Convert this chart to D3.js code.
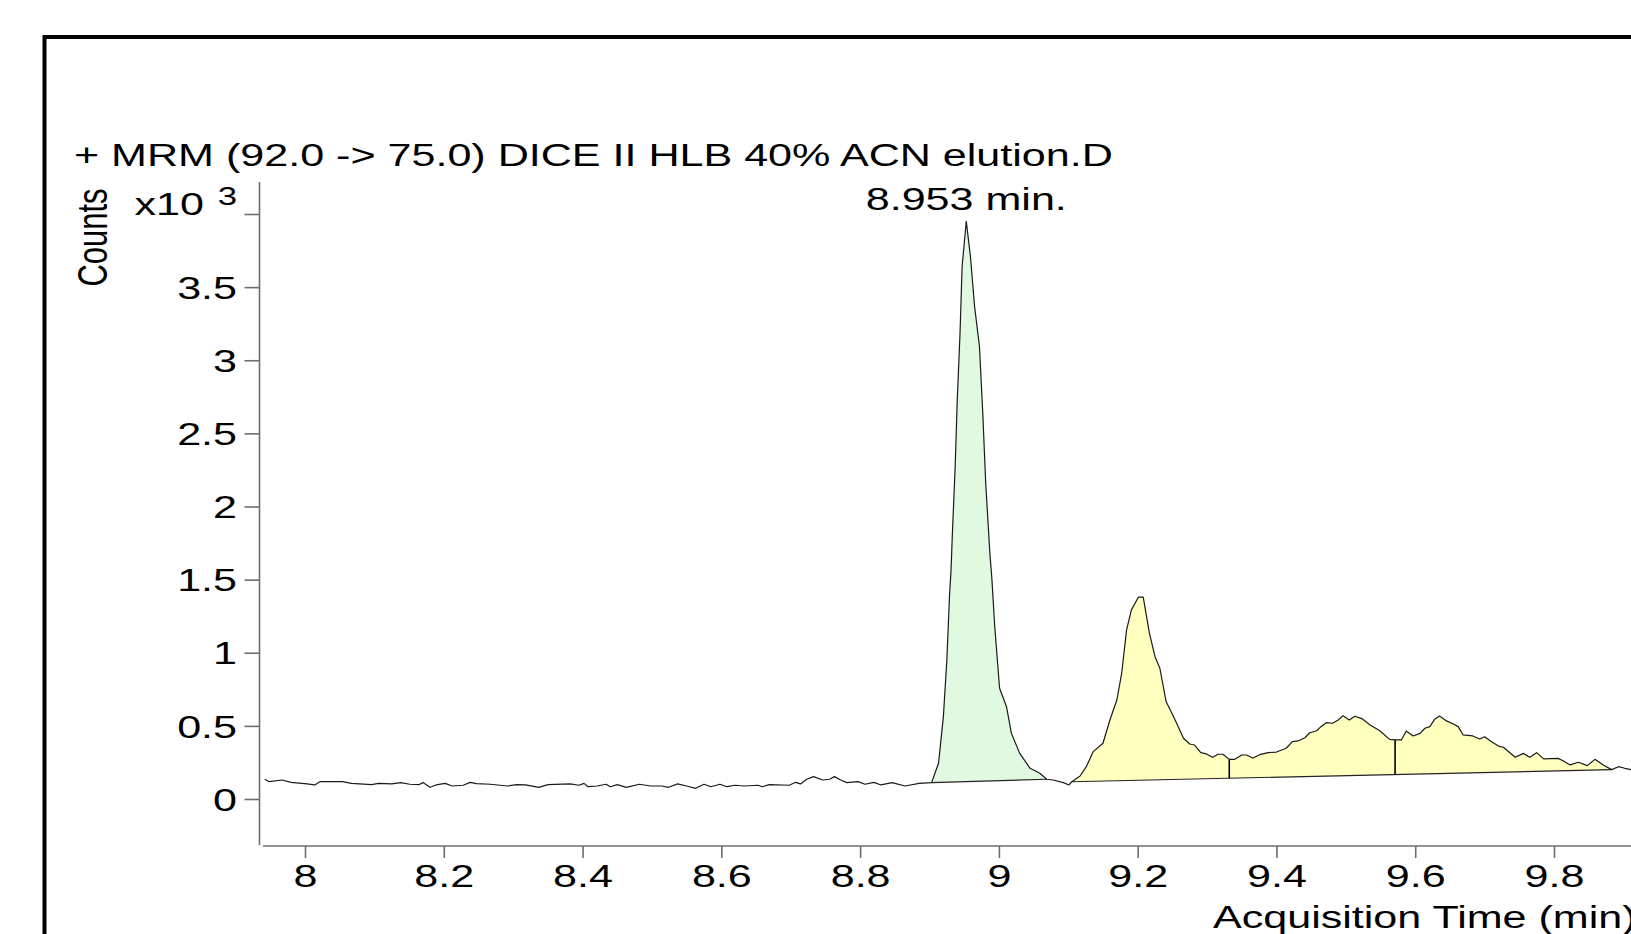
<!DOCTYPE html>
<html>
<head>
<meta charset="utf-8">
<script src="https://cdn.jsdelivr.net/npm/d3@7"></script>
<style>
  body { margin: 0; background: #fff; }
  svg { display: block; }
  text { font-family: "Liberation Sans", Arial, sans-serif; fill: #000; }
</style>
</head>
<body>
<svg id="chart" width="1631" height="934"></svg>
<script>
// trace: time (min) / counts (x10^3)
var times = [
  7.942, 7.948, 7.967, 7.980, 8.003, 8.014, 8.022, 8.054, 8.067, 8.096,
  8.106, 8.125, 8.138, 8.151, 8.164, 8.170, 8.180, 8.189, 8.202, 8.212,
  8.228, 8.238, 8.247, 8.267, 8.292, 8.305, 8.318, 8.337, 8.350, 8.382,
  8.395, 8.402, 8.408, 8.421, 8.434, 8.440, 8.450, 8.463, 8.482, 8.498,
  8.514, 8.524, 8.537, 8.550, 8.563, 8.575, 8.585, 8.598, 8.608, 8.620,
  8.633, 8.653, 8.659, 8.669, 8.698, 8.707, 8.714, 8.723, 8.733, 8.746,
  8.756, 8.763, 8.772, 8.781, 8.797, 8.807, 8.820, 8.830, 8.846, 8.865,
  8.885, 8.903, 8.913, 8.920, 8.925, 8.929, 8.931, 8.933, 8.937, 8.940,
  8.944, 8.947, 8.953, 8.959, 8.965, 8.972, 8.977, 8.981, 8.987, 8.990,
  8.994, 9.001, 9.011, 9.018, 9.030, 9.045, 9.059, 9.069, 9.078, 9.093,
  9.101, 9.105, 9.117, 9.126, 9.136, 9.150, 9.160, 9.170, 9.177, 9.184,
  9.191, 9.201, 9.208, 9.217, 9.225, 9.232, 9.241, 9.254, 9.266, 9.275,
  9.282, 9.291, 9.299, 9.308, 9.316, 9.323, 9.332, 9.340, 9.350, 9.357,
  9.366, 9.376, 9.388, 9.400, 9.414, 9.423, 9.431, 9.441, 9.448, 9.458,
  9.463, 9.472, 9.481, 9.489, 9.496, 9.505, 9.513, 9.523, 9.535, 9.549,
  9.563, 9.571, 9.580, 9.587, 9.597, 9.607, 9.614, 9.621, 9.628, 9.635,
  9.645, 9.655, 9.662, 9.669, 9.683, 9.693, 9.700, 9.710, 9.720, 9.727,
  9.744, 9.756, 9.765, 9.775, 9.785, 9.806, 9.813, 9.823, 9.835, 9.848,
  9.859, 9.871, 9.883, 9.893, 9.902, 9.911, 9.925
];
var counts = [
  0.135, 0.119, 0.130, 0.114, 0.103, 0.096, 0.119, 0.119, 0.107, 0.098,
  0.107, 0.103, 0.112, 0.101, 0.098, 0.112, 0.080, 0.096, 0.107, 0.089,
  0.094, 0.114, 0.105, 0.101, 0.089, 0.098, 0.096, 0.080, 0.098, 0.103,
  0.094, 0.107, 0.084, 0.089, 0.101, 0.084, 0.098, 0.080, 0.101, 0.089,
  0.089, 0.080, 0.103, 0.089, 0.073, 0.101, 0.084, 0.101, 0.084, 0.094,
  0.089, 0.094, 0.084, 0.098, 0.094, 0.114, 0.103, 0.135, 0.153, 0.130,
  0.135, 0.153, 0.130, 0.112, 0.119, 0.101, 0.114, 0.096, 0.112, 0.089,
  0.107, 0.112, 0.244, 0.563, 0.951, 1.407, 1.560, 1.817, 2.273, 2.729,
  3.185, 3.641, 3.950, 3.709, 3.367, 3.094, 2.615, 2.159, 1.680, 1.498,
  1.180, 0.757, 0.631, 0.449, 0.312, 0.210, 0.176, 0.135, 0.130, 0.112,
  0.096, 0.118, 0.157, 0.221, 0.324, 0.381, 0.540, 0.677, 0.860, 1.156,
  1.293, 1.380, 1.380, 1.133, 0.973, 0.894, 0.666, 0.540, 0.415, 0.376,
  0.369, 0.317, 0.308, 0.285, 0.306, 0.306, 0.271, 0.271, 0.301, 0.301,
  0.280, 0.303, 0.317, 0.321, 0.347, 0.392, 0.397, 0.419, 0.453, 0.467,
  0.490, 0.522, 0.518, 0.540, 0.570, 0.540, 0.566, 0.550, 0.506, 0.467,
  0.408, 0.404, 0.404, 0.465, 0.431, 0.449, 0.484, 0.495, 0.545, 0.568,
  0.534, 0.513, 0.495, 0.438, 0.431, 0.410, 0.426, 0.392, 0.362, 0.354,
  0.285, 0.312, 0.285, 0.317, 0.274, 0.278, 0.262, 0.233, 0.251, 0.228,
  0.271, 0.233, 0.201, 0.221, 0.210, 0.201, 0.205
];

var xTicks = [8, 8.2, 8.4, 8.6, 8.8, 9, 9.2, 9.4, 9.6, 9.8];
var yTicks = [0, 0.5, 1, 1.5, 2, 2.5, 3, 3.5, 4];
var yTickLabels = ["0", "0.5", "1", "1.5", "2", "2.5", "3", "3.5", ""];

// integrated peaks, start/end in minutes
var greenPeak = [8.903, 9.069];
var yellowPeak = [9.105, 9.883];
var peakSplits = [9.332, 9.571];
var apexTime = 8.953;
var apexLabel = "8.953 min.";

var title = "+ MRM (92.0 -> 75.0) DICE II HLB 40% ACN elution.D";
var yTitle = "Counts";
var xTitle = "Acquisition Time (min)";

// the picture is stretched sideways, so is the type
var SX = 1.39;
var FS = 31;

var svg = d3.select("#chart");

var x = d3.scaleLinear().domain([8, 9.8]).range([305, 1554]);
var y = d3.scaleLinear().domain([0, 4]).range([799, 214]);

var data = times.map(function(t, i) { return {t: t, v: counts[i]}; });

function valueAt(t) {
  var i = d3.bisector(function(d) { return d.t; }).left(data, t);
  if (i <= 0) return data[0].v;
  if (i >= data.length) return data[data.length - 1].v;
  var a = data[i - 1], b = data[i];
  if (b.t === t) return b.v;
  return a.v + (b.v - a.v) * (t - a.t) / (b.t - a.t);
}

function label(str, px, py, anchor, size) {
  return svg.append("text")
    .attr("transform", "translate(" + px + "," + py + ") scale(" + SX + ",1)")
    .attr("text-anchor", anchor)
    .style("font-size", (size || FS) + "px")
    .text(str);
}

// outer frame, runs off the right and bottom edge
svg.append("rect")
  .attr("x", 44.5).attr("y", 37)
  .attr("width", 1700).attr("height", 1000)
  .attr("fill", "none")
  .attr("stroke", "#000")
  .attr("stroke-width", 4);

// peak fills between trace and a straight drop baseline
function drawPeak(range, color) {
  var v0 = valueAt(range[0]), v1 = valueAt(range[1]);
  var base = function(t) { return v0 + (v1 - v0) * (t - range[0]) / (range[1] - range[0]); };
  var pts = data.filter(function(d) { return d.t >= range[0] && d.t <= range[1]; });

  svg.append("path")
    .datum(pts)
    .attr("fill", color)
    .attr("stroke", "none")
    .attr("d", d3.area()
      .x(function(d) { return x(d.t); })
      .y0(function(d) { return y(base(d.t)); })
      .y1(function(d) { return y(d.v); }));

  svg.append("line")
    .attr("x1", x(range[0])).attr("y1", y(v0))
    .attr("x2", x(range[1])).attr("y2", y(v1))
    .attr("stroke", "#222")
    .attr("stroke-width", 1.2);

  return base;
}

drawPeak(greenPeak, "#e0f9e0");
var yellowBase = drawPeak(yellowPeak, "#ffffc0");

peakSplits.forEach(function(t) {
  svg.append("line")
    .attr("x1", x(t)).attr("x2", x(t))
    .attr("y1", y(yellowBase(t))).attr("y2", y(valueAt(t)))
    .attr("stroke", "#000")
    .attr("stroke-width", 1.6);
});

// the trace
svg.append("path")
  .datum(data)
  .attr("fill", "none")
  .attr("stroke", "#1a1a1a")
  .attr("stroke-width", 1.2)
  .attr("stroke-linejoin", "round")
  .attr("d", d3.line()
    .x(function(d) { return x(d.t); })
    .y(function(d) { return y(d.v); }));

// x axis
var xAxis = svg.append("g")
  .attr("transform", "translate(0,846)")
  .call(d3.axisBottom(x).tickValues(xTicks).tickSize(12)
    .tickFormat(function(d) { return d3.format("~g")(d); }));
xAxis.select(".domain").remove();
xAxis.append("line")
  .attr("x1", 263).attr("x2", 1640)
  .attr("stroke", "#6e6e6e").attr("stroke-width", 1.6);
xAxis.selectAll(".tick line").attr("stroke", "#6e6e6e").attr("stroke-width", 1.6);
xAxis.selectAll(".tick text")
  .attr("y", 41).attr("dy", null)
  .attr("transform", "scale(" + SX + ",1)")
  .attr("fill", "#000")
  .style("font-size", FS + "px")
  .style("font-family", "'Liberation Sans', Arial, sans-serif");

// y axis
var yAxis = svg.append("g")
  .attr("transform", "translate(259.5,0)")
  .call(d3.axisLeft(y).tickValues(yTicks).tickSize(15)
    .tickFormat(function(d, i) { return yTickLabels[i]; }));
yAxis.select(".domain").remove();
yAxis.append("line")
  .attr("y1", 182).attr("y2", 845)
  .attr("stroke", "#6e6e6e").attr("stroke-width", 1.6);
yAxis.selectAll(".tick line").attr("stroke", "#6e6e6e").attr("stroke-width", 1.6);
yAxis.selectAll(".tick text")
  .attr("x", -22.5 / SX).attr("dy", "0.36em")
  .attr("transform", "scale(" + SX + ",1)")
  .attr("fill", "#000")
  .style("font-size", FS + "px")
  .style("font-family", "'Liberation Sans', Arial, sans-serif");

// exponent at the top of the count axis
label("x10", 204, 215, "end");
label("3", 237, 205, "end", 25);

// titles
label(title, 74, 166, "start");
label(xTitle, 1213, 928, "start");

svg.append("text")
  .attr("transform", "translate(107,237.5) scale(" + SX + ",1) rotate(-90)")
  .attr("text-anchor", "middle")
  .style("font-size", FS + "px")
  .text(yTitle);

// retention time over the main peak
label(apexLabel, x(apexTime), y(valueAt(apexTime)) - 11, "middle");
</script>
</body>
</html>
